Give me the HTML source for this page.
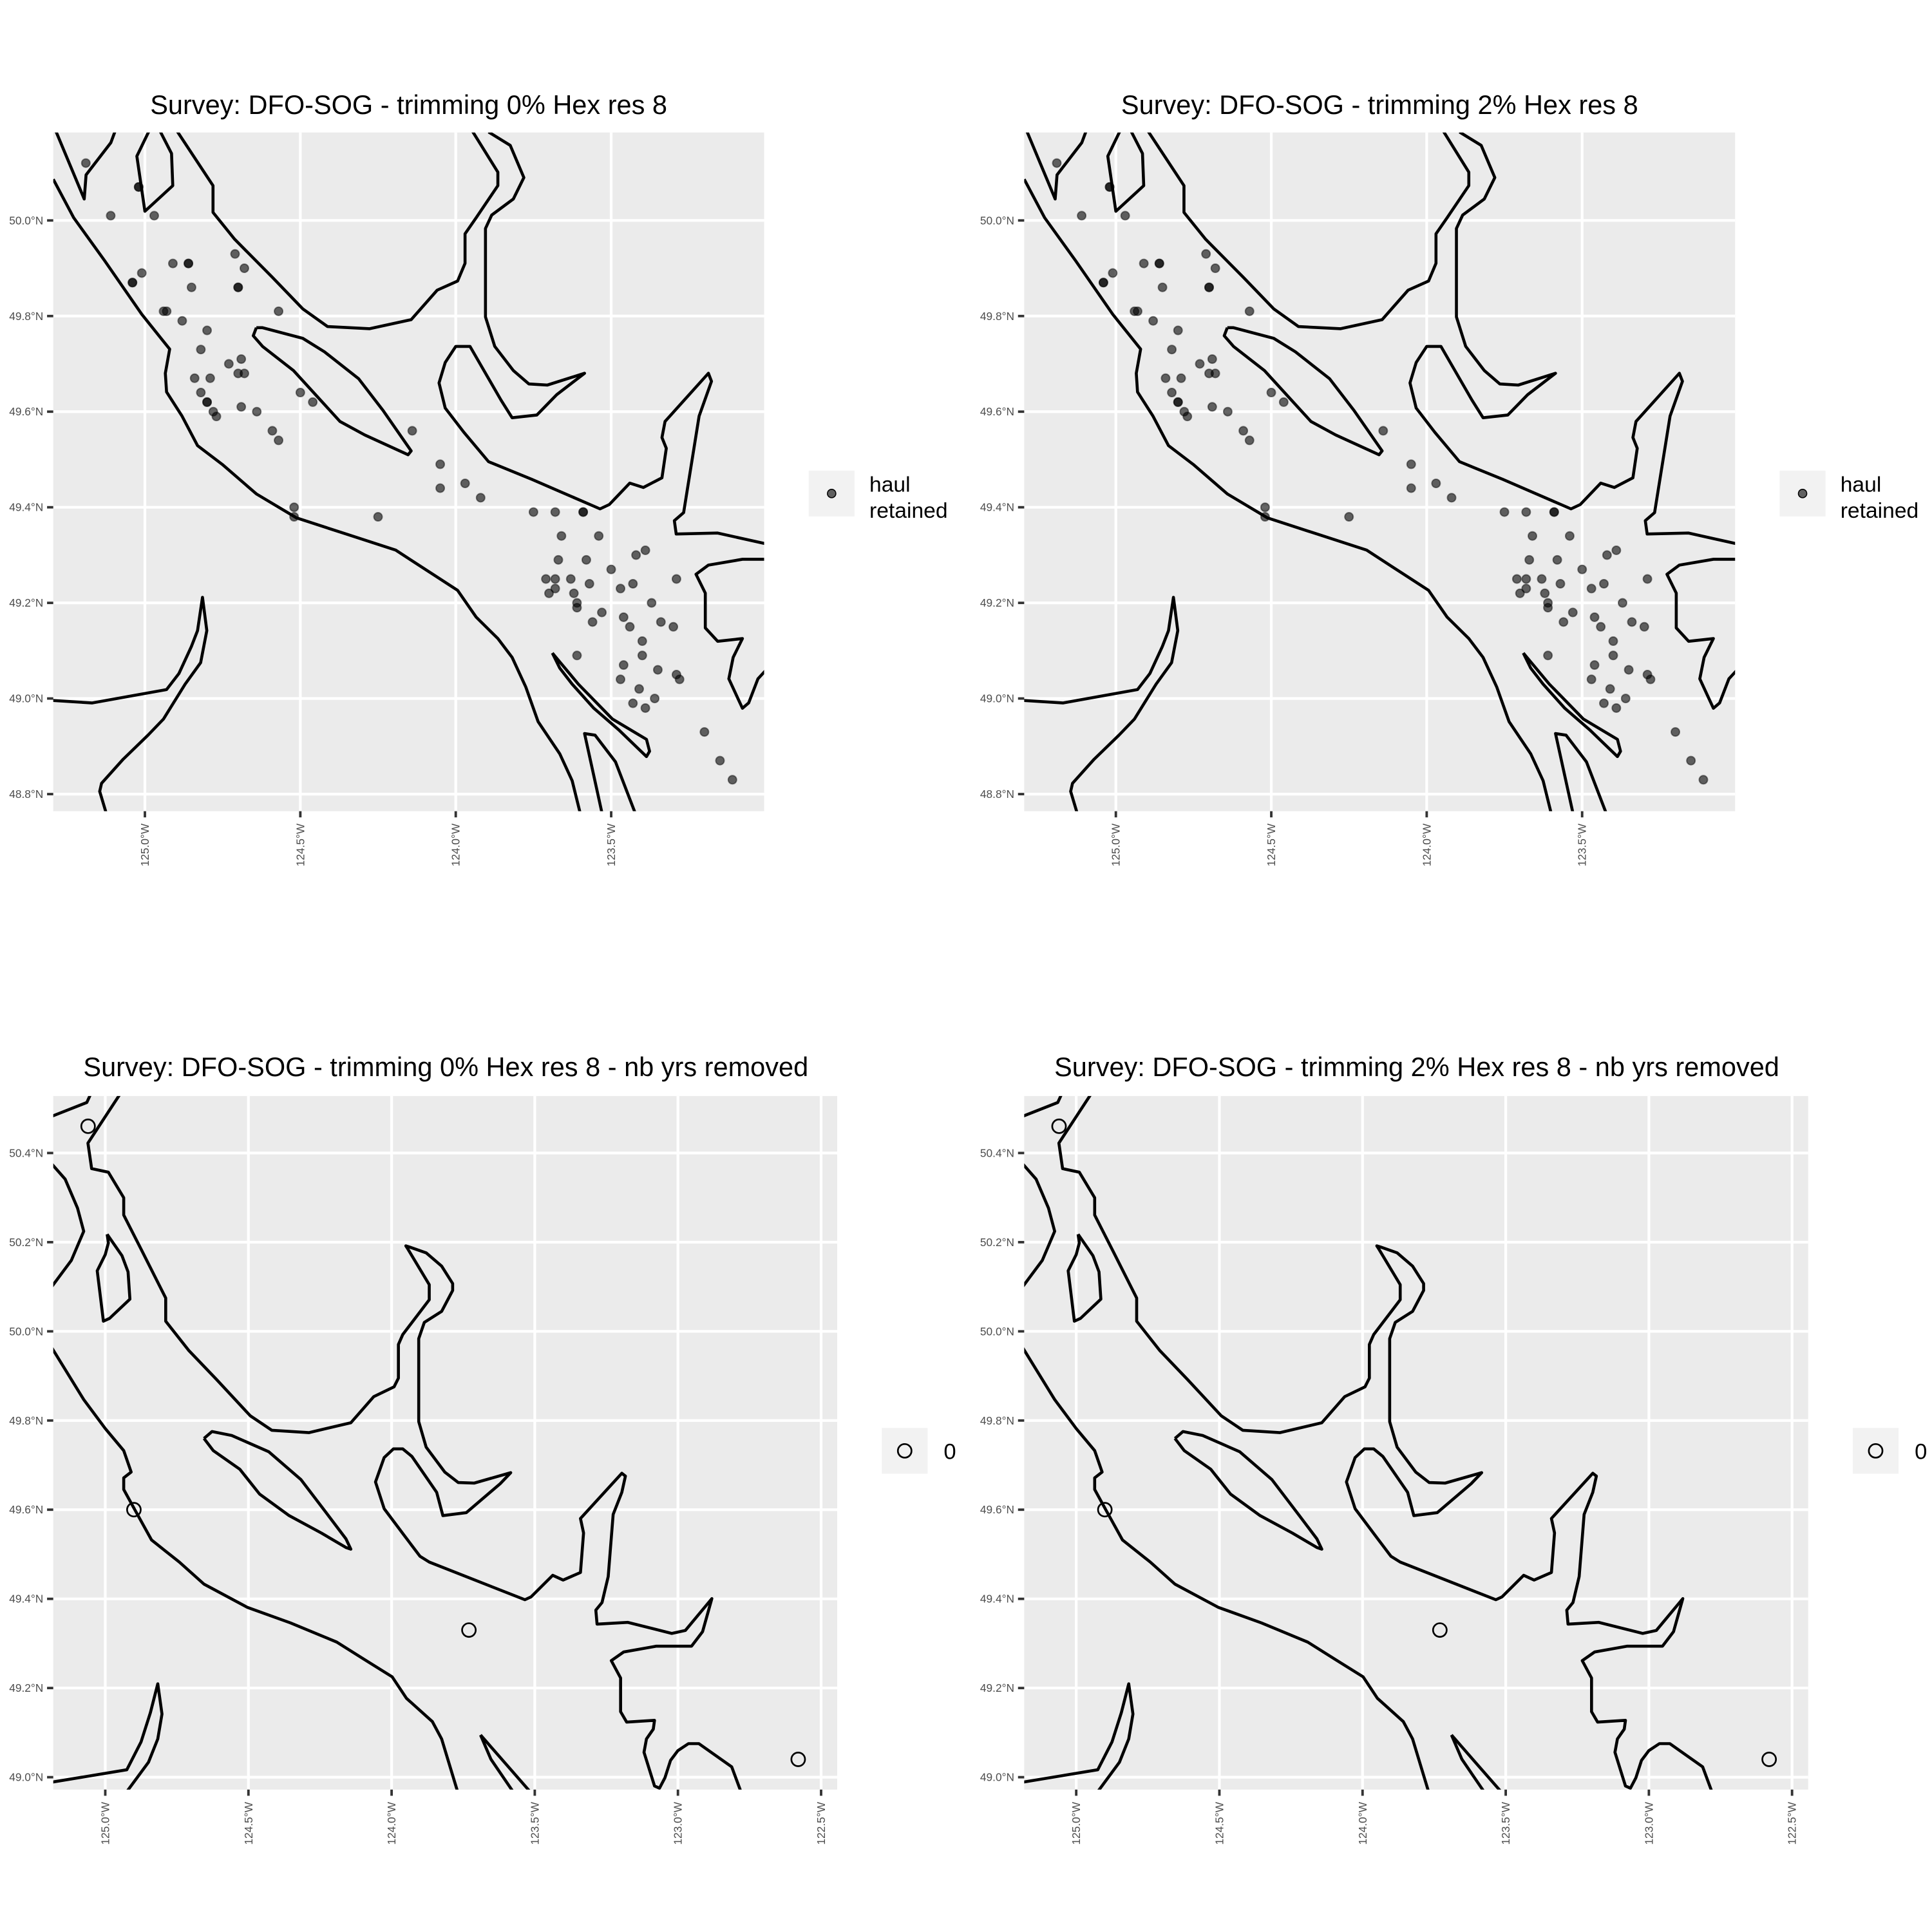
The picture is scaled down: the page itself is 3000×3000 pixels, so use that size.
<!DOCTYPE html>
<html><head><meta charset="utf-8"><style>
html,body{margin:0;padding:0;background:#fff}
svg{display:block}
text{font-family:"Liberation Sans",Arial,sans-serif}
</style></head><body>
<svg id="fig" width="3000" height="3000" viewBox="0 0 1560 1560" xmlns="http://www.w3.org/2000/svg"></svg>
<script>
// ---- data: haul locations (longitude degrees West, latitude N) ----
const haulLonW = [125.19,125.02,125.02,125.11,124.97,124.91,124.86,124.86,125.04,125.04,125.01,124.85,124.71,124.68,124.70,124.70,124.57,124.94,124.93,124.88,124.80,124.82,124.84,124.79,124.82,124.80,124.80,124.78,124.77,124.73,124.69,124.70,124.68,124.69,124.64,124.59,124.57,124.50,124.46,124.14,124.05,124.05,123.97,123.92,124.52,124.52,124.25,123.75,123.68,123.59,123.59,123.66,123.54,123.67,123.58,123.42,123.39,123.50,123.71,123.68,123.63,123.68,123.57,123.70,123.62,123.61,123.61,123.47,123.43,123.37,123.29,123.53,123.56,123.46,123.44,123.34,123.30,123.40,123.40,123.61,123.46,123.35,123.29,123.28,123.47,123.41,123.36,123.43,123.39,123.20,123.15,123.11];
const haulLat  = [50.12,50.07,50.07,50.01,50.01,49.91,49.91,49.91,49.87,49.87,49.89,49.86,49.93,49.90,49.86,49.86,49.81,49.81,49.81,49.79,49.77,49.73,49.67,49.67,49.64,49.62,49.62,49.60,49.59,49.70,49.71,49.68,49.68,49.61,49.60,49.56,49.54,49.64,49.62,49.56,49.49,49.44,49.45,49.42,49.40,49.38,49.38,49.39,49.39,49.39,49.39,49.34,49.34,49.29,49.29,49.30,49.31,49.27,49.25,49.25,49.25,49.23,49.24,49.22,49.22,49.20,49.19,49.23,49.24,49.20,49.25,49.18,49.16,49.17,49.15,49.16,49.15,49.12,49.09,49.09,49.07,49.06,49.05,49.04,49.04,49.02,49.00,48.99,48.98,48.93,48.87,48.83];
// ---- data: cells with years removed (value 0) ----
const nbLonW = [125.06,124.90,123.73,122.58];
const nbLat  = [50.46,49.60,49.33,49.04];
// ---- axis ticks ----
const topXTicks = [125.0,124.5,124.0,123.5];
const topYTicks = [48.8,49.0,49.2,49.4,49.6,49.8,50.0];
const botXTicks = [125.0,124.5,124.0,123.5,123.0,122.5];
const botYTicks = [49.0,49.2,49.4,49.6,49.8,50.0,50.2,50.4];
const titles = ["Survey: DFO-SOG - trimming 0% Hex res 8","Survey: DFO-SOG - trimming 2% Hex res 8","Survey: DFO-SOG - trimming 0% Hex res 8 - nb yrs removed","Survey: DFO-SOG - trimming 2% Hex res 8 - nb yrs removed"];

const coastTopRaw = [
 [[87,188],[120,260],[170,340],[230,440],[275,505],[268,550],[270,585],[295,630],[320,685],[360,720],[415,775],[480,820],[560,850],[640,880],[700,925],[740,955],[770,1005],[805,1045],[828,1080],[850,1135],[870,1200],[905,1260],[925,1310],[940,1380]],
 [[90,95],[137,225],[140,180],[180,120],[188,95]],
 [[243,95],[222,145],[235,248],[280,200],[278,140],[258,95]],
 [[285,95],[345,200],[345,250],[380,300],[440,370],[490,430],[530,463],[598,467],[665,450],[707,395],[740,378],[752,345],[752,290],[770,260],[805,200],[805,175],[762,95]],
 [[790,100],[825,125],[847,185],[830,225],[795,255],[785,280],[785,445],[800,500],[830,545],[855,570],[885,572],[945,550],[900,590],[868,628],[828,633],[810,600],[775,530],[760,500],[737,500],[720,530],[710,568],[720,615],[750,660],[790,715],[860,748],[970,803],[985,795],[1018,755],[1040,763],[1070,745],[1077,690],[1070,670],[1075,640],[1145,550],[1150,565],[1130,630],[1105,810],[1090,825],[1093,850],[1160,848],[1245,870]],
 [[415,465],[425,465],[490,485],[525,510],[580,560],[620,620],[665,695],[660,702],[590,665],[550,640],[475,545],[425,500],[410,480],[415,465]],
 [[1245,897],[1200,897],[1145,908],[1125,925],[1140,960],[1140,1025],[1160,1050],[1200,1045],[1185,1080],[1178,1120],[1190,1150],[1200,1175],[1210,1165],[1225,1120],[1245,1095]],
 [[893,1072],[905,1100],[925,1130],[960,1175],[1000,1215],[1045,1265],[1050,1255],[1045,1233],[990,1195],[935,1130],[893,1072]],
 [[975,1380],[945,1222],[962,1225],[995,1275],[1000,1290],[1030,1380]],
 [[80,1160],[150,1165],[270,1140],[290,1110],[310,1060],[320,1030],[328,968],[335,1030],[325,1090],[300,1130],[265,1195],[240,1225],[200,1270],[165,1315],[162,1330],[175,1380]]
];
const coastBotRaw = [
 [[80,143],[140,118],[150,95]],
 [[199,95],[142,188],[148,232],[175,238],[200,282],[200,312],[230,375],[268,455],[268,495],[305,545],[350,595],[405,658],[440,683],[500,687],[568,670],[605,625],[638,608],[645,593],[645,535],[652,518],[695,458],[695,432],[660,370],[657,365],[663,367],[690,377],[715,400],[733,430],[733,442],[715,478],[687,497],[678,525],[678,668],[690,712],[720,755],[742,773],[768,774],[827,756],[810,775],[755,825],[717,830],[707,790],[667,728],[652,715],[637,715],[622,730],[608,772],[622,818],[655,865],[680,900],[695,910],[850,975],[860,970],[895,933],[912,941],[940,928],[945,860],[940,835],[1007,757],[1013,762],[1007,790],[993,828],[985,935],[975,980],[965,993],[967,1017],[1017,1014],[1088,1033],[1110,1028],[1153,973],[1138,1030],[1120,1055],[1063,1055],[1010,1065],[990,1080],[1005,1110],[1005,1168],[1015,1186],[1060,1183],[1058,1198],[1047,1215],[1043,1238],[1060,1296],[1068,1300],[1077,1282],[1086,1252],[1098,1235],[1115,1223],[1132,1223],[1185,1263],[1205,1320]],
 [[80,220],[105,250],[125,300],[135,340],[115,390],[80,440]],
 [[173,345],[175,360],[170,380],[157,408],[167,495],[177,490],[210,457],[207,410],[197,382],[173,345]],
 [[80,535],[135,630],[170,680],[200,718],[212,755],[200,765],[200,785],[218,820],[245,872],[290,910],[330,948],[400,988],[470,1015],[545,1048],[590,1078],[635,1108],[658,1145],[700,1185],[715,1215],[745,1320]],
 [[330,697],[343,685],[375,692],[435,720],[487,768],[530,828],[560,870],[568,888],[560,885],[520,860],[468,830],[420,793],[388,750],[345,718],[330,697]],
 [[195,1320],[240,1255],[255,1215],[262,1172],[255,1120],[243,1170],[228,1220],[205,1268],[80,1290]],
 [[778,1208],[795,1250],[840,1320]],
 [[778,1208],[870,1320]]
];
const tr1 = p => [125 - (p[0]-235)/502, 50 - (p[1]-265)/891.7];
const tr2 = p => [125 - (p[0]-170)/464, 50.4 - (p[1]-205)/768.5];
const coastTop = coastTopRaw.map(l => l.map(tr1));
const coastBot = coastBotRaw.map(l => l.map(tr2));

const NS = "http://www.w3.org/2000/svg";
const svg = document.getElementById('fig');
function mk(tag, attrs, parent){const e=document.createElementNS(NS,tag);for(const k in attrs)e.setAttribute(k,attrs[k]);(parent||svg).appendChild(e);return e;}

function panel(cfg, idx){
  const g = mk('g',{});
  
  
  const X = lw => cfg.x0 + (125 - lw)*cfg.sx;
  const Y = la => cfg.y0 + (cfg.latRef - la)*cfg.sy;
  const t = mk('text',{x:cfg.tx,y:cfg.ty,'text-anchor':'middle','font-size':21.6,fill:'#000'},g);
  t.textContent = titles[idx];
  
  
  const bg = mk('rect',{x:cfg.L,y:cfg.T,width:cfg.R-cfg.L,height:cfg.B-cfg.T,fill:'#ebebeb'},g);
  
  
  const cid = 'clip'+idx;
  const cp = mk('clipPath',{id:cid},g);
  mk('rect',{x:cfg.L,y:cfg.T,width:cfg.R-cfg.L,height:cfg.B-cfg.T},cp);
  cfg.xt.forEach(v=>{
    const gl = mk('line',{x1:X(v),x2:X(v),y1:cfg.T,y2:cfg.B,stroke:'#fff','stroke-width':2.2},g);
    
    
    mk('line',{x1:X(v),x2:X(v),y1:cfg.B,y2:cfg.B+5,stroke:'#333','stroke-width':2},g);
    const lx = X(v);
    const tl = mk('text',{x:lx,y:cfg.B+10,'text-anchor':'end','font-size':9,fill:'#4d4d4d','dominant-baseline':'central',transform:`rotate(-90 ${lx} ${cfg.B+10})`},g);
    tl.textContent = v.toFixed(1)+'°W';
    
    
  });
  cfg.yt.forEach(v=>{
    const gl = mk('line',{x1:cfg.L,x2:cfg.R,y1:Y(v),y2:Y(v),stroke:'#fff','stroke-width':2.2},g);
    
    
    mk('line',{x1:cfg.L-5,x2:cfg.L,y1:Y(v),y2:Y(v),stroke:'#333','stroke-width':2},g);
    const tl = mk('text',{x:cfg.L-8,y:Y(v),'text-anchor':'end','font-size':9,fill:'#4d4d4d','dominant-baseline':'central'},g);
    tl.textContent = v.toFixed(1)+'°N';
    
    
  });
  const cg = mk('g',{'clip-path':`url(#${cid})`},g);
  cfg.coast.forEach(line=>{
    const d = line.map((p,i)=>(i?'L':'M')+X(p[0]).toFixed(1)+' '+Y(p[1]).toFixed(1)).join(' ');
    const pa = mk('path',{d:d,fill:'none',stroke:'#000','stroke-width':2.4,'stroke-linejoin':'round'},cg);
    
    
  });
  cfg.lonW.forEach((lw,i)=>{
    const c = mk('circle',{cx:X(lw),cy:Y(cfg.lat[i]),r:cfg.open?5.5:3.4,
      fill:cfg.open?'none':'rgba(0,0,0,0.6)',stroke:cfg.open?'#000':'rgba(0,0,0,0.45)','stroke-width':cfg.open?1.4:1},cg);
    
    
  });
  // legend
  const lg = mk('g',{},g);
  
  
  mk('rect',{x:cfg.lgx,y:cfg.lgy,width:37,height:37,fill:'#f2f2f2'},lg);
  const k = mk('circle',{cx:cfg.lgx+18.5,cy:cfg.lgy+18.5,r:cfg.open?5.5:3.4,fill:cfg.open?'none':'rgba(0,0,0,0.6)',stroke:'#000','stroke-width':cfg.open?1.4:0.8},lg);
  
  
  if(cfg.open){
    const lt = mk('text',{x:cfg.lgx+50,y:cfg.lgy+25,'font-size':18,fill:'#000'},lg);
    lt.textContent='0';
    
    
  } else {
    const l1 = mk('text',{x:cfg.lgx+49,y:cfg.lgy+17,'font-size':17.5,fill:'#000'},lg);
    l1.textContent='haul';
    
    
    const l2 = mk('text',{x:cfg.lgx+49,y:cfg.lgy+38,'font-size':17.5,fill:'#000'},lg);
    l2.textContent='retained';
    
    
  }
}
[0,784].forEach((dx,j)=>{
  panel({x0:117+dx,sx:251,y0:178,latRef:50.0,sy:386,L:43+dx,R:617+dx,T:107,B:655,
    tx:330+dx,ty:92,xt:topXTicks,yt:topYTicks,coast:coastTop,lonW:haulLonW,lat:haulLat,open:false,lgx:653+dx,lgy:380},j);
  panel({x0:85+dx,sx:231.2,y0:931,latRef:50.4,sy:360,L:43+dx,R:676+dx,T:885,B:1445,
    tx:360+dx,ty:869,xt:botXTicks,yt:botYTicks,coast:coastBot,lonW:nbLonW,lat:nbLat,open:true,lgx:712+dx,lgy:1153},j+2);
});
</script>
</body></html>
